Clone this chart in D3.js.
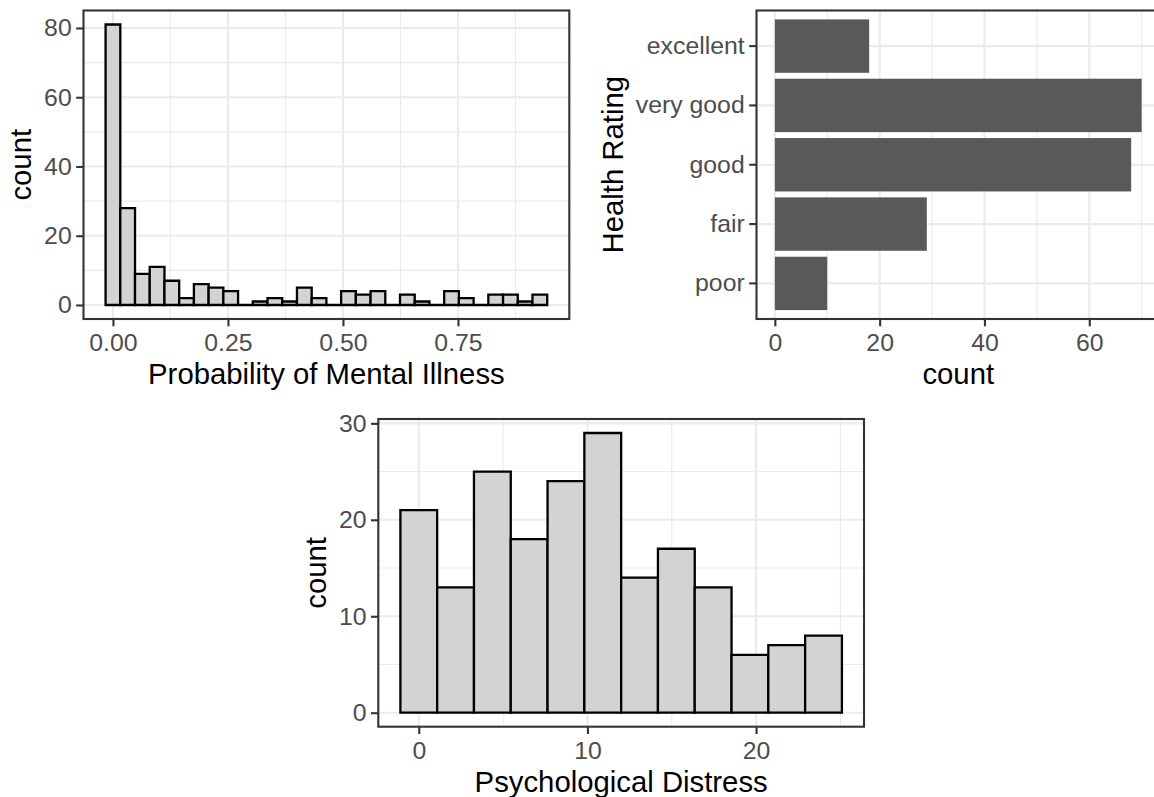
<!DOCTYPE html>
<html>
<head>
<meta charset="utf-8">
<script src="https://cdn.jsdelivr.net/npm/d3@7"></script>
<style>
  body { margin: 0; background: #fff; }
  svg { display: block; font-family: "Liberation Sans", Arial, Helvetica, sans-serif; }
</style>
</head>
<body>
<svg id="chart" width="1154" height="797"></svg>
<script>
// predicted probability of mental illness, 30 bins
var probCounts = [81, 28, 9, 11, 7, 2, 6, 5, 4, 0, 1, 2, 1, 5, 2, 0, 4, 3, 4, 0, 3, 1, 0, 4, 2, 0, 3, 3, 1, 3];
var probFirstCenter = 0, probBinWidth = 0.032;
var probTicks = [0, 0.25, 0.5, 0.75];
var probMinor = [0.125, 0.375, 0.625, 0.875];
var probCountTicks = [0, 20, 40, 60, 80];
var probCountMinor = [10, 30, 50, 70];

// self rated health
var healthLevels = ["excellent", "very good", "good", "fair", "poor"];
var healthCounts = [18, 70, 68, 29, 10];
var healthTicks = [0, 20, 40, 60];
var healthMinor = [10, 30, 50, 70];

// psychological distress score, 12 bins
var distressCounts = [21, 13, 25, 18, 24, 29, 14, 17, 13, 6, 7, 8];
var distressFirstCenter = 0, distressBinWidth = 2.1818;
var distressTicks = [0, 10, 20];
var distressMinor = [5, 15, 25];
var distressCountTicks = [0, 10, 20, 30];
var distressCountMinor = [5, 15, 25];

var TICK_FONT = 24.8, TITLE_FONT = 29.3;
var TICK_LEN = 7.3, BORDER = "#333333";

var svg = d3.select("#chart");
svg.append("rect").attr("width", 1154).attr("height", 797).attr("fill", "#fff");

function expand(lo, hi) {
  var d = (hi - lo) * 0.05;
  return [lo - d, hi + d];
}

function panel(box) {
  var g = svg.append("g");
  g.append("rect")
   .attr("x", box.left).attr("y", box.top)
   .attr("width", box.right - box.left).attr("height", box.bottom - box.top)
   .attr("fill", "#fff");
  return g;
}

function grid(g, box, x, y, xMajor, xMinor, yMajor, yMinor) {
  var gg = g.append("g").attr("stroke", "#EBEBEB").attr("fill", "none");
  (xMinor || []).forEach(function(v) {
    gg.append("line").attr("x1", x(v)).attr("x2", x(v)).attr("y1", box.top).attr("y2", box.bottom).attr("stroke-width", 1.1);
  });
  (yMinor || []).forEach(function(v) {
    gg.append("line").attr("y1", y(v)).attr("y2", y(v)).attr("x1", box.left).attr("x2", box.right).attr("stroke-width", 1.1);
  });
  xMajor.forEach(function(v) {
    gg.append("line").attr("x1", x(v)).attr("x2", x(v)).attr("y1", box.top).attr("y2", box.bottom).attr("stroke-width", 2.1);
  });
  yMajor.forEach(function(v) {
    gg.append("line").attr("y1", y(v)).attr("y2", y(v)).attr("x1", box.left).attr("x2", box.right).attr("stroke-width", 2.1);
  });
}

function styleAxis(ag) {
  ag.select(".domain").remove();
  ag.selectAll(".tick line").attr("stroke", BORDER).attr("stroke-width", 2.1);
  ag.selectAll(".tick text").attr("fill", "#4D4D4D").style("font-size", TICK_FONT + "px");
}

function axes(g, box, xAxis, yAxis, xTitle, yTitle) {
  var ax = g.append("g").attr("transform", "translate(0," + box.bottom + ")").call(xAxis);
  styleAxis(ax);
  var ay = g.append("g").attr("transform", "translate(" + box.left + ",0)").call(yAxis);
  styleAxis(ay);

  g.append("rect")
   .attr("x", box.left).attr("y", box.top)
   .attr("width", box.right - box.left).attr("height", box.bottom - box.top)
   .attr("fill", "none").attr("stroke", BORDER).attr("stroke-width", 2.1);

  g.append("text")
   .attr("x", (box.left + box.right) / 2)
   .attr("y", box.bottom + 65)
   .attr("text-anchor", "middle")
   .style("font-size", TITLE_FONT + "px")
   .attr("fill", "#000")
   .text(xTitle);

  // title sits just left of the widest tick label
  var bb = ay.node().getBBox();
  var tx = box.left + bb.x - 12.7;
  g.append("text")
   .attr("transform", "translate(" + tx + "," + ((box.top + box.bottom) / 2) + ") rotate(-90)")
   .attr("text-anchor", "middle")
   .style("font-size", TITLE_FONT + "px")
   .attr("fill", "#000")
   .text(yTitle);
}

function histogram(box, counts, firstCenter, binWidth, xMajor, xMinor, yMajor, yMinor, fmt, xTitle) {
  var n = counts.length;
  var lo = firstCenter - binWidth / 2, hi = firstCenter + (n - 1) * binWidth + binWidth / 2;
  var x = d3.scaleLinear().domain(expand(lo, hi)).range([box.left, box.right]);
  var y = d3.scaleLinear().domain(expand(0, d3.max(counts))).range([box.bottom, box.top]);

  var g = panel(box);
  grid(g, box, x, y, xMajor, xMinor, yMajor, yMinor);

  var bins = counts.map(function(c, i) {
    var x0 = lo + i * binWidth;
    return { x0: x0, x1: x0 + binWidth, count: c };
  });
  // paths, so empty bins still show their outline on the baseline
  g.append("g").selectAll("path")
   .data(bins)
   .enter()
   .append("path")
   .attr("d", function(d) {
     return "M" + x(d.x0) + "," + y(0) + "V" + y(d.count) + "H" + x(d.x1) + "V" + y(0) + "Z";
   })
   .attr("fill", "#D3D3D3")
   .attr("stroke", "#000")
   .attr("stroke-width", 2.3);

  axes(g, box,
       d3.axisBottom(x).tickValues(xMajor).tickFormat(fmt).tickSize(TICK_LEN).tickPadding(7),
       d3.axisLeft(y).tickValues(yMajor).tickSize(TICK_LEN).tickPadding(4.5),
       xTitle, "count");
}

// top left
histogram({ left: 83.5, right: 569.3, top: 10.5, bottom: 319 },
          probCounts, probFirstCenter, probBinWidth,
          probTicks, probMinor, probCountTicks, probCountMinor,
          d3.format(".2f"), "Probability of Mental Illness");

// bottom
histogram({ left: 378.3, right: 864, top: 419, bottom: 726.7 },
          distressCounts, distressFirstCenter, distressBinWidth,
          distressTicks, distressMinor, distressCountTicks, distressCountMinor,
          d3.format("d"), "Psychological Distress");

// top right: horizontal bar chart
(function() {
  var box = { left: 756.5, right: 1160, top: 10.5, bottom: 319 };
  var x = d3.scaleLinear().domain(expand(0, d3.max(healthCounts))).range([box.left, box.right]);
  var y = d3.scaleBand().domain(healthLevels).range([box.top, box.bottom]).paddingInner(0.1).paddingOuter(0.15);
  var yc = function(v) { return y(v) + y.bandwidth() / 2; };

  var g = panel(box);
  grid(g, box, x, yc, healthTicks, healthMinor, healthLevels, []);

  g.append("g").selectAll("rect")
   .data(healthLevels)
   .enter()
   .append("rect")
   .attr("x", x(0))
   .attr("y", function(d) { return y(d); })
   .attr("width", function(d, i) { return x(healthCounts[i]) - x(0); })
   .attr("height", y.bandwidth())
   .attr("fill", "#595959");

  axes(g, box,
       d3.axisBottom(x).tickValues(healthTicks).tickFormat(d3.format("d")).tickSize(TICK_LEN).tickPadding(7),
       d3.axisLeft(y).tickSize(TICK_LEN).tickPadding(4.5),
       "count", "Health Rating");
})();
</script>
</body>
</html>
